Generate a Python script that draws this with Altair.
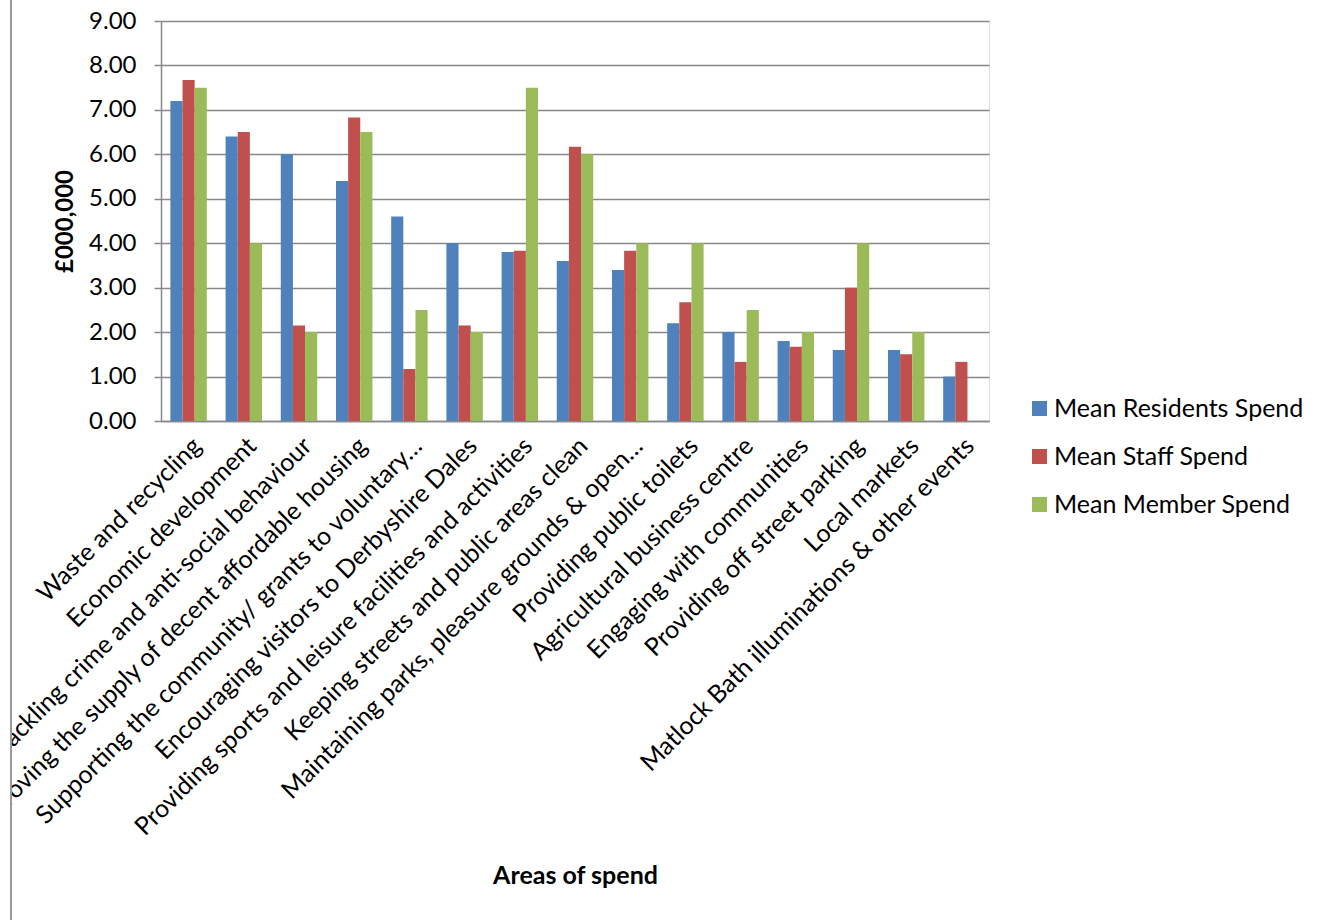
import altair as alt
import pandas as pd

categories = [
    "Waste and recycling",
    "Economic development",
    "Tackling crime and anti-social behaviour",
    "Improving the supply of decent affordable housing",
    "Supporting the community/ grants to voluntary…",
    "Encouraging visitors to Derbyshire Dales",
    "Providing sports and leisure facilities and activities",
    "Keeping streets and public areas clean",
    "Maintaining parks, pleasure grounds & open…",
    "Providing public toilets",
    "Agricultural business centre",
    "Engaging with communities",
    "Providing off street parking",
    "Local markets",
    "Matlock Bath illuminations & other events",
]
residents = [7.2, 6.4, 6.0, 5.4, 4.6, 4.0, 3.8, 3.6, 3.4, 2.2, 2.0, 1.8, 1.6, 1.6, 1.0]
staff = [7.67, 6.5, 2.15, 6.83, 1.17, 2.15, 3.83, 6.17, 3.83, 2.67, 1.33, 1.67, 3.0, 1.5, 1.33]
member = [7.5, 4.0, 2.0, 6.5, 2.5, 2.0, 7.5, 6.0, 4.0, 4.0, 2.5, 2.0, 4.0, 2.0, None]
series = ["Mean Residents Spend", "Mean Staff Spend", "Mean Member Spend"]
colors = ["#4F81BD", "#C0504D", "#9BBB59"]

rows = []
for s, vals in zip(series, [residents, staff, member]):
    for c, v in zip(categories, vals):
        if v is not None:
            rows.append({"Category": c, "Series": s, "Value": v})
df = pd.DataFrame(rows)

FONT = "Lato"

bars = alt.Chart(df).mark_bar().encode(
    x=alt.X(
        "Category:N",
        sort=categories,
        scale=alt.Scale(paddingInner=0.34, paddingOuter=0.17),
        axis=alt.Axis(
            title="Areas of spend",
            labelAngle=-45,
            labelAlign="right",
            labelBaseline="top",
            labelPadding=12,
            labelLimit=1000,
            labelFontSize=25,
            labelColor="#000",
            ticks=False,
            tickSize=0,
            domainColor="#888",
            domainWidth=1.5,
            titleFontSize=25,
            titleFontWeight="bold",
            titleY=454,
            titleBaseline="middle",
            zindex=0,
        ),
    ),
    xOffset=alt.XOffset("Series:N", sort=series),
    y=alt.Y(
        "Value:Q",
        scale=alt.Scale(domain=[0, 9]),
        axis=alt.Axis(
            title="£000,000",
            values=list(range(10)),
            format=".2f",
            labelFontSize=24,
            labelColor="#000",
            labelPadding=18,
            tickSize=7,
            tickColor="#888",
            tickWidth=1.5,
            domainColor="#888",
            domainWidth=1.5,
            gridColor="#888",
            gridWidth=1.5,
            titleFontSize=24,
            titleFontWeight="bold",
            titleX=-96,
            titleBaseline="middle",
            zindex=0,
        ),
    ),
    color=alt.Color(
        "Series:N",
        sort=series,
        scale=alt.Scale(domain=series, range=colors),
        legend=alt.Legend(
            title=None,
            orient="none",
            legendX=866,
            legendY=375,
            symbolType="square",
            symbolSize=225,
            symbolStrokeWidth=0,
            labelFontSize=25,
            labelLimit=400,
            rowPadding=22,
            labelOffset=2,
        ),
    ),
)

frame_df = pd.DataFrame({"k": [0]})
mask = alt.Chart(frame_df).mark_rect(color="white").encode(
    x=alt.value(-200), x2=alt.value(-150), y=alt.value(-30), y2=alt.value(920)
)
frame = alt.Chart(frame_df).mark_rule(color="#999", strokeWidth=2).encode(
    x=alt.value(-150), y=alt.value(-21), y2=alt.value(899)
)

chart = (
    alt.layer(bars, mask, frame)
    .properties(
        width=828,
        height=400,
        autosize=alt.AutoSizeParams(type="none"),
        padding={"left": 161, "top": 21, "right": 328, "bottom": 499},
        background="white",
    )
    .configure_view(strokeWidth=0)
    .configure(font=FONT)
    .configure_axis(labelFont=FONT, titleFont=FONT)
    .configure_legend(labelFont=FONT)
)

chart.save("out.html", embed_options={"renderer": "svg", "actions": False})
